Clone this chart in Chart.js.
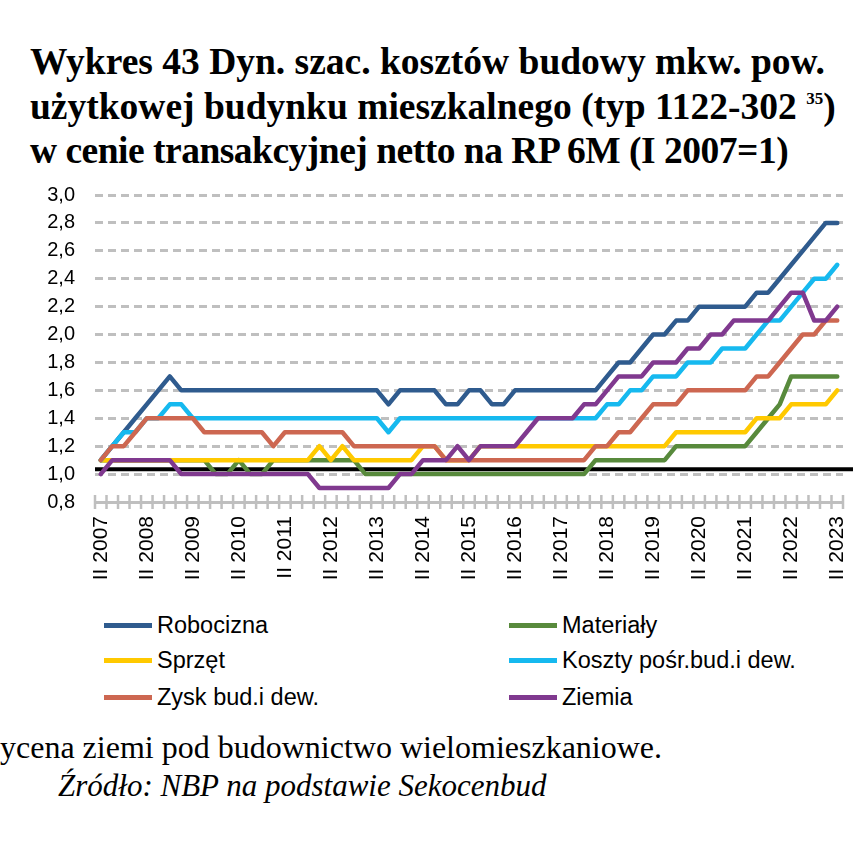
<!DOCTYPE html>
<html lang="pl">
<head>
<meta charset="utf-8">
<title>Wykres 43</title>
<script src="https://cdn.jsdelivr.net/npm/chart.js@4.4.0/dist/chart.umd.min.js"></script>
<style>
  html, body { margin: 0; padding: 0; background: #fff; }
  body { width: 868px; height: 842px; position: relative; overflow: hidden; }
  #title {
    position: absolute; left: 30px; top: 40px;
    font-family: 'Liberation Serif', serif; font-weight: bold;
    font-size: 37.5px; line-height: 44.5px; white-space: nowrap; color: #000;
  }
  #title sup { font-size: 17px; vertical-align: 15px; line-height: 0; }
  #title .l3 { letter-spacing: -0.5px; }
  #chartBox { position: absolute; left: 0; top: 163px; width: 868px; height: 437px; }
  .lg { position: absolute; height: 30px; display: flex; align-items: center; white-space: nowrap; }
  .lg .sw { display: inline-block; width: 48px; height: 5px; margin-right: 5px; }
  .lg .tx { font-family: 'Liberation Sans', Arial, sans-serif; font-size: 23.5px; color: #000; }
  .note { position: absolute; font-family: 'Liberation Serif', serif; line-height: 36px; white-space: nowrap; color: #000; }
</style>
</head>
<body>
<div id="title">Wykres 43 Dyn. szac. kosztów budowy mkw. pow.<br>użytkowej budynku mieszkalnego (typ 1122-302 <sup>35</sup>)<br><span class="l3">w cenie transakcyjnej netto na RP 6M (I 2007=1)</span></div>
<div id="chartBox"><canvas id="chart"></canvas></div>
<div id="legend"></div>
<div class="note" style="left:0; top:729px; font-size:32px;">ycena ziemi pod budownictwo wielomieszkaniowe.</div>
<div class="note" style="left:58px; top:768px; font-size:31px; font-style:italic;">Źródło: NBP na podstawie Sekocenbud</div>

<script>
// kwartały II 2007 - II 2023
const YEARS = [2007, 2008, 2009, 2010, 2011, 2012, 2013, 2014, 2015, 2016, 2017, 2018, 2019, 2020, 2021, 2022, 2023];
const QUARTERS = ['II', 'III', 'IV', 'I'];
const labels = [];
YEARS.forEach(function (y, k) {
    QUARTERS.forEach(function (q, j) {
        if (k === YEARS.length - 1 && j > 0) return;
        labels.push(q + ' ' + (j === 3 ? y + 1 : y));
    });
});

const robocizna = [
    1.1, 1.2, 1.3, 1.4, 1.5, 1.6, 1.7, 1.6, 1.6, 1.6, 1.6, 1.6, 1.6, 1.6, 1.6, 1.6,
    1.6, 1.6, 1.6, 1.6, 1.6, 1.6, 1.6, 1.6, 1.6, 1.5, 1.6, 1.6, 1.6, 1.6, 1.5, 1.5,
    1.6, 1.6, 1.5, 1.5, 1.6, 1.6, 1.6, 1.6, 1.6, 1.6, 1.6, 1.6, 1.7, 1.8, 1.8, 1.9,
    2.0, 2.0, 2.1, 2.1, 2.2, 2.2, 2.2, 2.2, 2.2, 2.3, 2.3, 2.4, 2.5, 2.6, 2.7, 2.8,
    2.8
];
const materialy = [
    1.1, 1.1, 1.1, 1.1, 1.1, 1.1, 1.1, 1.1, 1.1, 1.1, 1.0, 1.0, 1.1, 1.0, 1.0, 1.1,
    1.1, 1.1, 1.1, 1.1, 1.1, 1.1, 1.1, 1.0, 1.0, 1.0, 1.0, 1.0, 1.0, 1.0, 1.0, 1.0,
    1.0, 1.0, 1.0, 1.0, 1.0, 1.0, 1.0, 1.0, 1.0, 1.0, 1.0, 1.1, 1.1, 1.1, 1.1, 1.1,
    1.1, 1.1, 1.2, 1.2, 1.2, 1.2, 1.2, 1.2, 1.2, 1.3, 1.4, 1.5, 1.7, 1.7, 1.7, 1.7,
    1.7
];
const sprzet = [
    1.1, 1.1, 1.1, 1.1, 1.1, 1.1, 1.1, 1.1, 1.1, 1.1, 1.1, 1.1, 1.1, 1.1, 1.1, 1.1,
    1.1, 1.1, 1.1, 1.2, 1.1, 1.2, 1.1, 1.1, 1.1, 1.1, 1.1, 1.1, 1.2, 1.2, 1.1, 1.1,
    1.1, 1.2, 1.2, 1.2, 1.2, 1.2, 1.2, 1.2, 1.2, 1.2, 1.2, 1.2, 1.2, 1.2, 1.2, 1.2,
    1.2, 1.2, 1.3, 1.3, 1.3, 1.3, 1.3, 1.3, 1.3, 1.4, 1.4, 1.4, 1.5, 1.5, 1.5, 1.5,
    1.6
];
const kosztyPosr = [
    1.1, 1.2, 1.3, 1.3, 1.4, 1.4, 1.5, 1.5, 1.4, 1.4, 1.4, 1.4, 1.4, 1.4, 1.4, 1.4,
    1.4, 1.4, 1.4, 1.4, 1.4, 1.4, 1.4, 1.4, 1.4, 1.3, 1.4, 1.4, 1.4, 1.4, 1.4, 1.4,
    1.4, 1.4, 1.4, 1.4, 1.4, 1.4, 1.4, 1.4, 1.4, 1.4, 1.4, 1.4, 1.5, 1.5, 1.6, 1.6,
    1.7, 1.7, 1.7, 1.8, 1.8, 1.8, 1.9, 1.9, 1.9, 2.0, 2.1, 2.1, 2.2, 2.3, 2.4, 2.4,
    2.5
];
const zysk = [
    1.1, 1.2, 1.2, 1.3, 1.4, 1.4, 1.4, 1.4, 1.4, 1.3, 1.3, 1.3, 1.3, 1.3, 1.3, 1.2,
    1.3, 1.3, 1.3, 1.3, 1.3, 1.3, 1.2, 1.2, 1.2, 1.2, 1.2, 1.2, 1.2, 1.2, 1.1, 1.1,
    1.1, 1.1, 1.1, 1.1, 1.1, 1.1, 1.1, 1.1, 1.1, 1.1, 1.1, 1.2, 1.2, 1.3, 1.3, 1.4,
    1.5, 1.5, 1.5, 1.6, 1.6, 1.6, 1.6, 1.6, 1.6, 1.7, 1.7, 1.8, 1.9, 2.0, 2.0, 2.1,
    2.1
];
const ziemia = [
    1.0, 1.1, 1.1, 1.1, 1.1, 1.1, 1.1, 1.0, 1.0, 1.0, 1.0, 1.0, 1.0, 1.0, 1.0, 1.0,
    1.0, 1.0, 1.0, 0.9, 0.9, 0.9, 0.9, 0.9, 0.9, 0.9, 1.0, 1.0, 1.1, 1.1, 1.1, 1.2,
    1.1, 1.2, 1.2, 1.2, 1.2, 1.3, 1.4, 1.4, 1.4, 1.4, 1.5, 1.5, 1.6, 1.7, 1.7, 1.7,
    1.8, 1.8, 1.8, 1.9, 1.9, 2.0, 2.0, 2.1, 2.1, 2.1, 2.1, 2.2, 2.3, 2.3, 2.1, 2.1,
    2.2
];

const seriesNames = ['Robocizna', 'Materiały', 'Sprzęt', 'Koszty pośr.bud.i dew.', 'Zysk bud.i dew.', 'Ziemia'];
const seriesData = [robocizna, materialy, sprzet, kosztyPosr, zysk, ziemia];
const seriesColors = ['#2F5B8E', '#588A3C', '#FFC900', '#16B9EF', '#CD6751', '#80398F'];

const REF_LEVEL = 1.035;   // czarna linia odniesienia
const Y_TICKS = [0.8, 3.0, 0.2]; // min, max, krok

function fmt(v) {
    return v.toFixed(1).replace('.', ',');
}

// czarna linia pod seriami + znaczniki osi X (krzyżykowe)
const axisDecor = {
    id: 'axisDecor',
    beforeDatasetsDraw(chart) {
        const ctx = chart.ctx, area = chart.chartArea;
        const yRef = chart.scales.y.getPixelForValue(REF_LEVEL);
        ctx.save();
        ctx.strokeStyle = '#000';
        ctx.lineWidth = 4;
        ctx.beginPath();
        ctx.moveTo(area.left, yRef);
        ctx.lineTo(area.right + 10, yRef);
        ctx.stroke();
        ctx.restore();
    },
    afterDraw(chart) {
        const ctx = chart.ctx, area = chart.chartArea, x = chart.scales.x;
        const step = x.getPixelForValue(1) - x.getPixelForValue(0);
        ctx.save();
        ctx.strokeStyle = '#BFBFBF';
        ctx.lineWidth = 2.5;
        for (let i = 0; i <= labels.length; i++) {
            const px = x.getPixelForValue(i) - step / 2;
            ctx.beginPath();
            ctx.moveTo(px, area.bottom - 7);
            ctx.lineTo(px, area.bottom + 7);
            ctx.stroke();
        }
        ctx.restore();
    }
};

const datasets = seriesData.map(function (d, k) {
    return {
        label: seriesNames[k],
        data: d,
        borderColor: seriesColors[k],
        backgroundColor: seriesColors[k],
        borderWidth: 4.5,
        pointRadius: 0,
        tension: 0,
        borderJoinStyle: 'round',
        borderCapStyle: 'round',
        order: seriesData.length - k   // ostatnia seria na wierzchu (jak w Excelu)
    };
});

const myChart = new Chart(document.getElementById('chart'), {
    type: 'line',
    data: { labels: labels, datasets: datasets },
    options: {
        responsive: true,
        maintainAspectRatio: false,
        animation: false,
        layout: { padding: { left: 0, right: 25, top: 15, bottom: 0 } },
        plugins: { legend: { display: false }, tooltip: { enabled: false } },
        scales: {
            x: {
                offset: true,
                grid: { display: false, drawTicks: false },
                border: { display: true, color: '#BFBFBF', width: 3 },
                ticks: {
                    autoSkip: false,
                    minRotation: 90,
                    maxRotation: 90,
                    padding: 14,
                    color: '#000',
                    font: { family: 'Liberation Sans', size: 21 },
                    callback: function (val, idx) {
                        return idx % 4 === 0 ? this.getLabelForValue(val) : '';
                    }
                },
                afterFit: function (scale) {
                    scale.height = 98;
                    scale.paddingLeft = 0;
                    scale.paddingRight = 0;
                }
            },
            y: {
                min: Y_TICKS[0],
                max: Y_TICKS[1],
                grid: { color: '#BFBFBF', lineWidth: 3, drawTicks: false },
                border: { display: false, dash: [8, 5] },
                ticks: {
                    stepSize: Y_TICKS[2],
                    padding: 20,
                    color: '#000',
                    font: { family: 'Liberation Sans', size: 20 },
                    callback: function (v) { return fmt(v); }
                },
                afterFit: function (scale) { scale.width = 95; }
            }
        }
    },
    plugins: [axisDecor]
});

// legenda w dwóch kolumnach
const LEGEND_ROWS = [610, 645, 682];
const LEGEND_COLS = [104, 509];
const legendBox = document.getElementById('legend');
seriesNames.forEach(function (name, k) {
    const item = document.createElement('div');
    item.className = 'lg';
    item.style.left = LEGEND_COLS[k % 2] + 'px';
    item.style.top = LEGEND_ROWS[Math.floor(k / 2)] + 'px';
    const sw = document.createElement('span');
    sw.className = 'sw';
    sw.style.background = seriesColors[k];
    const tx = document.createElement('span');
    tx.className = 'tx';
    tx.textContent = name;
    item.appendChild(sw);
    item.appendChild(tx);
    legendBox.appendChild(item);
});
</script>
</body>
</html>
